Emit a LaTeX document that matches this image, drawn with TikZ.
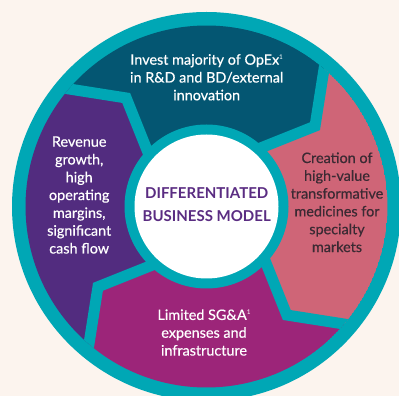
\documentclass[tikz,border=0pt]{standalone}
\usepackage{fontspec}
\setmainfont{Lato}
\newfontfamily\segfont{Lato}[FakeBold=0.5]
\definecolor{bgc}{HTML}{FCF4EE}
\definecolor{ringc}{HTML}{00A7B5}
\definecolor{topc}{HTML}{045672}
\definecolor{pinkc}{HTML}{CF6577}
\definecolor{magc}{HTML}{9C2579}
\definecolor{purc}{HTML}{522C7F}
\definecolor{titlec}{HTML}{5A2C82}
\definecolor{darktxt}{HTML}{3B2A33}
\newcommand\fnm{\raisebox{5.5pt}{\normalfont\fontsize{6.5}{7}\selectfont 1}}
\tikzset{
  segtext/.style={align=center, font=\segfont\fontsize{14.4}{17.8}\selectfont, inner sep=0pt},
  titletext/.style={align=center, font=\bfseries\fontsize{15}{22.7}\selectfont, inner sep=0pt, text=titlec},
  gapline/.style={ringc, line width=11pt, line join=miter, shorten <=-8pt, shorten >=-8pt}
}
\begin{document}
\begin{tikzpicture}[x=1pt,y=1pt]
\useasboundingbox (0,0) rectangle (399,396);
\clip (0,0) rectangle (399,396);
\fill[bgc] (0,0) rectangle (399,396);
\begin{scope}[shift={(206.5,189.5)}]
  \fill[ringc] (0,0) circle[radius=194.5];
  \begin{scope}
    \clip (0,0) circle[radius=181];
    \foreach \a/\c in {0/topc, -90/pinkc, -180/magc, -270/purc}{
      \fill[\c] ({139.5+\a}:181) -- ({126.5+\a}:135) -- ({136.5+\a}:82) -- (0,0)
        -- ({46.5+\a}:82) -- ({36.5+\a}:135) -- ({49.5+\a}:181)
        arc[start angle={49.5+\a}, end angle={139.5+\a}, radius=181] -- cycle;
    }
    \foreach \a in {0,90,180,270}{
      \draw[gapline] ({49.5+\a}:181) -- ({36.5+\a}:135) -- ({46.5+\a}:82);
    }
  \end{scope}
  \fill[ringc] (0,0) circle[radius=82];
  \fill[white] (0,0) circle[radius=72];
\end{scope}
\node[titletext] (center) at (206.7,191.3) {DIFFERENTIATED\\BUSINESS MODEL};
\node[segtext, text=white] (invest) at (206.7,318.7) {Invest majority of OpEx\fnm\\in R\&D and BD/external\\innovation};
\node[segtext, text=darktxt] (creation) at (337,193.7) {Creation of\\high-value\\transformative\\medicines for\\specialty\\markets};
\node[segtext, text=white] (limited) at (204,63.5) {Limited SG\&A\fnm\\expenses and\\infrastructure};
\node[segtext, text=white] (revenue) at (79.2,201) {Revenue\\growth,\\high\\operating\\margins,\\significant\\cash flow};
\end{tikzpicture}
\end{document}
